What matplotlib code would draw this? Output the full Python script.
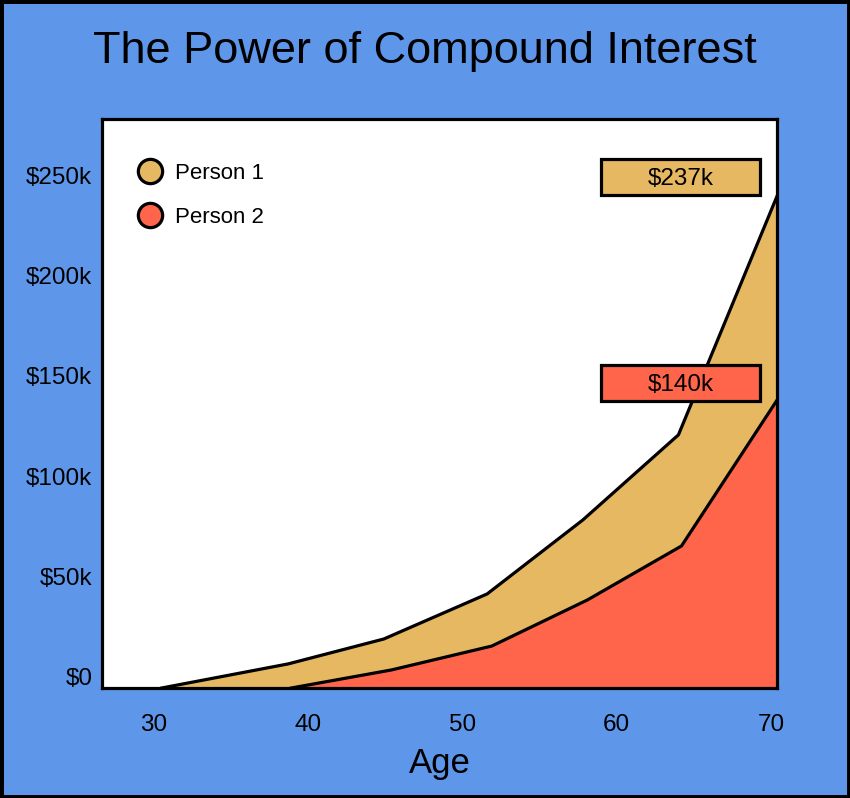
import matplotlib
matplotlib.use("Agg")
import matplotlib.pyplot as plt
from matplotlib.lines import Line2D
from matplotlib.patches import Rectangle

ages_1 = [30.5, 38.7, 44.9, 51.6, 57.8, 64.0, 70.4]
values_1 = [0, 11.6, 23.6, 45.3, 80.9, 121.9, 237]
ages_2 = [38.9, 45.4, 51.9, 58.1, 64.2, 70.4]
values_2 = [0, 8.7, 20.2, 42.4, 68.4, 138.7]
x_ticks = [30, 40, 50, 60, 70]
y_ticks = [0, 50, 100, 150, 200, 250]
y_labels = ["$0", "$50k", "$100k", "$150k", "$200k", "$250k"]
series_names = ["Person 1", "Person 2"]
end_labels = ["$237k", "$140k"]

BLUE = "#5E97EA"
GOLD = "#E6B862"
RED = "#FF654B"
W, H = 850, 798
LW = 2.3
plt.rcParams["font.family"] = ["Liberation Sans", "DejaVu Sans"]

fig = plt.figure(figsize=(W / 100, H / 100), dpi=100, facecolor=BLUE)
fig.add_artist(Rectangle((0, 0), 1, 1, transform=fig.transFigure, fill=False, ec="black", lw=5))
L, R, T, B = 102, 777, 119, 688
ax = fig.add_axes([L / W, 1 - B / H, (R - L) / W, (B - T) / H], facecolor="white")
ax.set_xlim(26.63, 70.39)
ax.set_ylim(0, 274)

ax.fill_between(ages_1, values_1, color=GOLD, lw=0, zorder=2)
ax.plot(ages_1, values_1, color="black", lw=LW, zorder=3)
ax.fill_between(ages_2, values_2, color=RED, lw=0, zorder=4)
ax.plot(ages_2, values_2, color="black", lw=LW, zorder=5)

ax.set_xticks(x_ticks)
ax.tick_params(axis="x", length=0, pad=18.5, labelsize=17.5)
ax.set_xlabel("Age", fontsize=25, labelpad=8)
ax.set_yticks([])
for s in ax.spines.values():
    s.set_linewidth(LW)
    s.set_zorder(10)

# the $ labels sit on their own scale in the original artwork
lab = ax.twinx()
lab.set_ylim(-5.48, 277.9)
lab.yaxis.set_ticks_position("left")
lab.set_yticks(y_ticks, y_labels)
lab.tick_params(axis="y", length=0, pad=7, labelsize=17.5)
for s in lab.spines.values():
    s.set_visible(False)
lab.patch.set_visible(False)

handles = [Line2D([], [], ls="", marker="o", ms=17.5, mfc=c, mec="black", mew=LW) for c in (GOLD, RED)]
ax.legend(handles, series_names, loc="upper left", bbox_to_anchor=(0.0375, 0.9222), frameon=False,
          fontsize=16, labelspacing=1.02, handletextpad=0.13, borderpad=0, borderaxespad=0)

for (y0, y1), c, t in zip([(159, 195), (365, 401)], (GOLD, RED), end_labels):
    x0 = (601 - L) / (R - L)
    x1 = (760 - L) / (R - L)
    a0 = (B - y1) / (B - T)
    a1 = (B - y0) / (B - T)
    ax.add_patch(Rectangle((x0, a0), x1 - x0, a1 - a0, transform=ax.transAxes, fc=c, ec="black", lw=LW, zorder=8))
    ax.text((x0 + x1) / 2, (a0 + a1) / 2, t, transform=ax.transAxes, ha="center", va="center_baseline", fontsize=17.5, zorder=9)

fig.text(424.5 / W, 1 - 63.5 / H, "The Power of Compound Interest", ha="center", va="baseline", fontsize=32.5)
fig.savefig("out.png", dpi=100, facecolor=BLUE)
